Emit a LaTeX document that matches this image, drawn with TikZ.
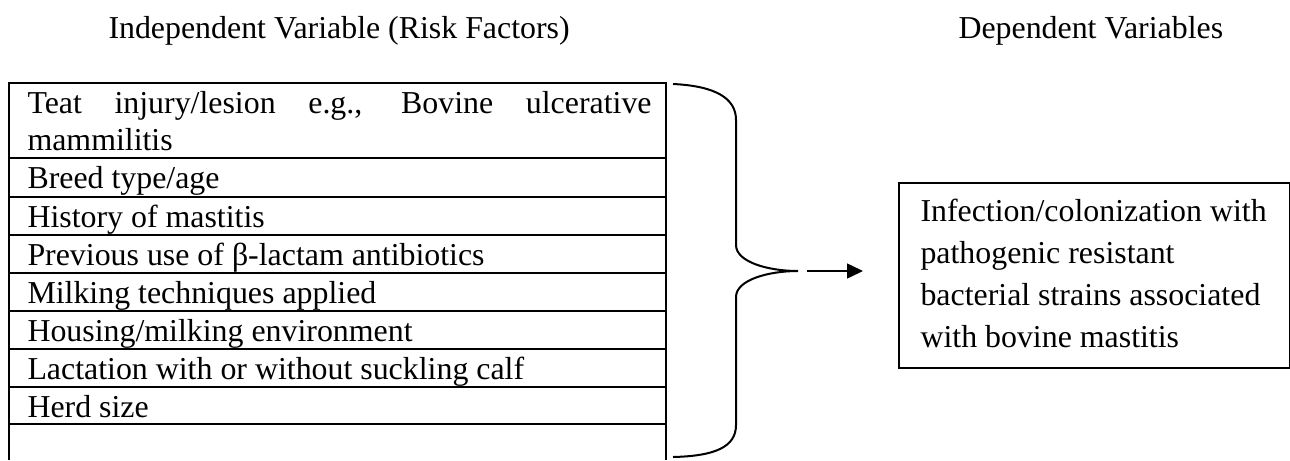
\documentclass[tikz,border=0pt]{standalone}
\usepackage{fontspec}
\setmainfont{Liberation Serif}
\usetikzlibrary{arrows.meta}

\begin{document}
\begin{tikzpicture}[x=0.4pt,y=-0.4pt,
        every node/.style={font=\fontsize{12.75}{15.3}\selectfont},
        factor/.style={anchor=base west, inner sep=0pt},
        line/.style={line width=0.8pt}]
        \useasboundingbox (0,0) rectangle (1290,460);

        \node[factor] (indep) at (108,38) {Independent Variable (Risk Factors)};
        \node[factor] (dep) at (958,38) {Dependent Variables};

        \draw[line] (9,460) -- (9,83) -- (666,83) -- (666,460);
        \foreach \y in {158,197,235,273,311,349,387,424}
            \draw[line] (9,\y) -- (666,\y);

        \node[factor] (teat) at (27,113) {\makebox[249.6pt][s]{Teat injury/lesion e.g., Bovine ulcerative}};
        \node[factor] (teatb) at (27,150) {mammilitis};
        \node[factor] (breed) at (27,188) {Breed type/age};
        \node[factor] (history) at (27,227) {History of mastitis};
        \node[factor] (lactam) at (27,265) {Previous use of β-lactam antibiotics};
        \node[factor] (milking) at (27,303) {Milking techniques applied};
        \node[factor] (housing) at (27,341) {Housing/milking environment};
        \node[factor] (calf) at (27,379) {Lactation with or without suckling calf};
        \node[factor] (herd) at (27,417) {Herd size};

        \coordinate (tip) at (798,271);
        \draw[line] (673,84) .. controls (715,86) and (736,98) .. (736,120)
            -- (736,245) .. controls (736,262) and (768,271) .. (tip)
            .. controls (768,271) and (736,280) .. (736,297)
            -- (736,425) .. controls (736,447) and (715,456) .. (673,457);

        \node[draw, line, minimum width=156.4pt, minimum height=74pt, anchor=north west] (outcome) at (898,182) {};
        \node[anchor=north west, inner sep=0pt, align=left,
            font=\fontsize{12.75}{16.8}\selectfont] (outtext) at (920,199)
            {Infection/colonization with\\pathogenic resistant\\bacterial strains associated\\with bovine mastitis};

        \draw[-{Triangle[length=6.4pt,width=6pt]}, line width=0.6pt, shorten <=3.6pt, shorten >=14pt] (tip) -- (outcome.west |- tip);

    \end{tikzpicture}
\end{document}
